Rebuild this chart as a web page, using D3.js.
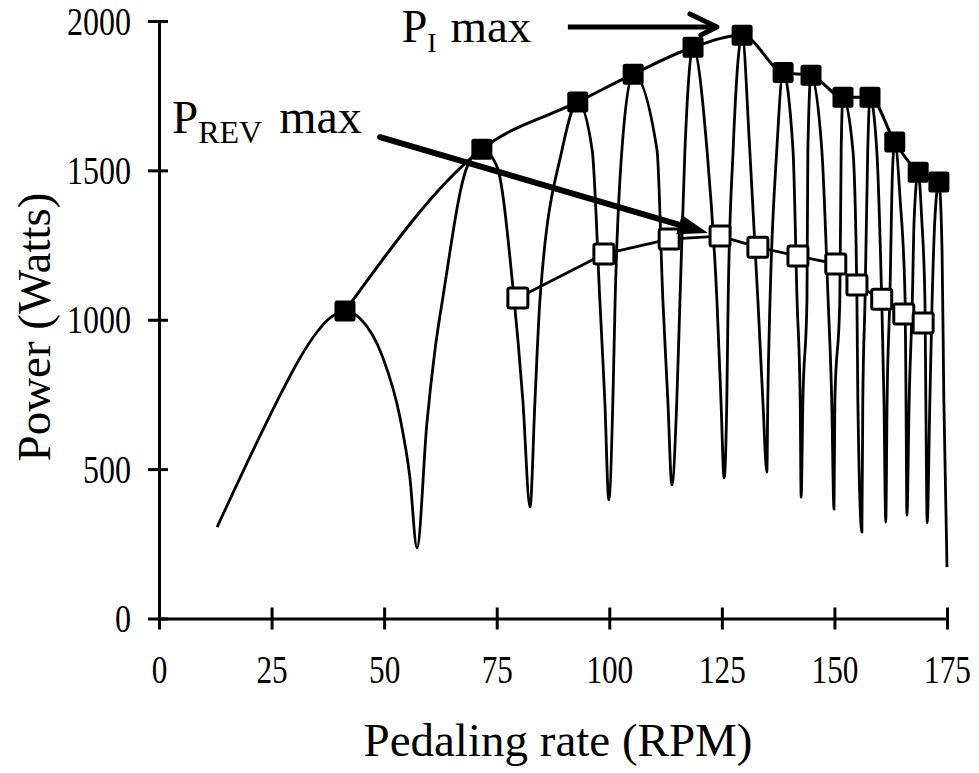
<!DOCTYPE html>
<html><head><meta charset="utf-8">
<script src="https://cdn.jsdelivr.net/npm/d3@7"></script>
<style>html,body{margin:0;padding:0;background:#fff;} svg{display:block;}</style>
</head><body>
<svg id="chart" width="979" height="773"></svg>
<script>
// ---------- data ----------
const xTickValues = [0, 25, 50, 75, 100, 125, 150, 175];
const yTickValues = [0, 500, 1000, 1500, 2000];

// instantaneous power trace (RPM, Watts)
const traceRpm = [12.9, 20.2, 27.5, 31.3, 35.1, 38.0, 41.3, 44.6, 49.7, 53.5, 55.7, 57.3,
  59.5, 61.3, 63.1, 68.4, 71.7,
  75.1, 78.6, 80.8, 82.4,
  83.5, 84.6, 89.5, 93.0,
  96.2, 97.9, 99.0, 99.9,
  100.8, 101.3, 102.8, 105.3,
  110.6, 111.9, 113.0, 113.9,
  115.0, 115.7, 116.8, 118.6,
  121.7, 123.9, 124.8, 125.5,
  126.1, 126.4, 127.5, 129.5,
  131.2, 133.0, 134.1, 135.0,
  135.2, 135.7, 137.2, 138.6,
  140.8, 141.7, 142.4, 142.6,
  143.0, 143.9, 144.1, 144.8,
  147.2, 148.6, 149.4, 149.9,
  150.1, 151.2, 151.5, 151.9,
  154.1, 155.0, 155.2, 156.1,
  156.3, 156.8, 157.4, 157.9,
  159.4, 160.5, 161.0, 161.4,
  161.7, 162.3, 162.9, 163.4,
  164.6, 165.7, 165.9, 166.1,
  166.6, 167.3, 167.7, 168.6,
  169.4, 170.1, 170.3, 170.6,
  171.2, 171.7, 172.3, 173.2,
  173.9, 174.3, 175.0];
const traceWatts = [306, 541, 765, 872, 959, 1006, 1029, 1005, 874, 674, 474, 236,
  655, 900, 1080, 1511, 1571,
  1511, 1109, 731, 373,
  731, 1066, 1568, 1729,
  1568, 1066, 731, 397,
  731, 1066, 1568, 1822,
  1568, 1066, 731, 447,
  731, 1066, 1568, 1912,
  1568, 1066, 731, 470,
  731, 1066, 1568, 1952,
  1568, 1066, 731, 490,
  731, 1066, 1568, 1828,
  1568, 1066, 731, 406,
  731, 1066, 1568, 1818,
  1568, 1066, 731, 366,
  731, 1066, 1568, 1745,
  1568, 1066, 731, 289,
  731, 1066, 1568, 1745,
  1568, 1066, 731, 323,
  731, 1066, 1500, 1595,
  1401, 1066, 731, 346,
  731, 1066, 1334, 1494,
  1334, 1066, 731, 320,
  731, 1066, 1334, 1461,
  1233, 731, 172];

// P_I max (filled squares)
const piRpm   = [41.3, 71.7, 93.0, 105.3, 118.6, 129.5, 138.6, 144.8, 151.9, 157.9, 163.4, 168.6, 173.2];
const piWatts = [1029, 1571, 1729, 1822, 1912, 1952, 1828, 1818, 1745, 1745, 1595, 1494, 1461];

// P_REV max (open squares)
const revRpm   = [79.7, 98.8, 113.3, 124.6, 133.0, 141.9, 150.3, 155.0, 160.5, 165.4, 169.7];
const revWatts = [1073, 1220, 1270, 1280, 1243, 1213, 1187, 1116, 1069, 1019, 989];

// annotation anchors (RPM, Watts)
const piLabelAt   = [53.9, 1930];
const piArrowFrom = [90.8, 1980];
const piArrowTo   = [123.9, 1980];
const revLabelAt   = [2.9, 1625];
const revArrowFrom = [49.1, 1611];
const revArrowTo   = [121.9, 1290];

const xTitle = "Pedaling rate (RPM)";
const yTitle = "Power (Watts)";

// ---------- drawing ----------
const FONT = "'Liberation Serif','Times New Roman',Times,serif";
const svg = d3.select("#chart");
const x = d3.scaleLinear().domain([0, 175]).range([159, 947]);
const y = d3.scaleLinear().domain([0, 2000]).range([618.5, 21]);

// axes
const gx = svg.append("g").attr("transform", `translate(0,${y(0)})`)
  .call(d3.axisBottom(x).tickValues(xTickValues).tickSizeOuter(0).tickFormat(d3.format("d")));
gx.select(".domain").attr("stroke", "#000").attr("stroke-width", 3);
gx.selectAll(".tick line").attr("y1", -11).attr("y2", 11).attr("stroke", "#000").attr("stroke-width", 3);
gx.selectAll(".tick text")
  .attr("font-family", FONT).attr("font-size", 40).attr("fill", "#000")
  .attr("y", 65).attr("dy", 0).attr("text-anchor", "middle")
  .attr("transform", "scale(0.78,1)");

const gy = svg.append("g").attr("transform", `translate(${x(0)},0)`)
  .call(d3.axisLeft(y).tickValues(yTickValues).tickSizeOuter(0).tickFormat(d3.format("d")));
gy.select(".domain").attr("stroke", "#000").attr("stroke-width", 3);
gy.selectAll(".tick line").attr("x1", 9).attr("x2", -11).attr("stroke", "#000").attr("stroke-width", 3);
gy.selectAll(".tick text")
  .attr("font-family", FONT).attr("font-size", 40).attr("fill", "#000")
  .attr("x", -28 / 0.8).attr("dy", "0.33em").attr("text-anchor", "end")
  .attr("transform", "scale(0.8,1)");

// axis titles
svg.append("text").attr("x", 558).attr("y", 756)
  .attr("text-anchor", "middle").attr("font-family", FONT).attr("font-size", 47)
  .text(xTitle);
svg.append("text").attr("transform", "translate(50,327) rotate(-90)")
  .attr("text-anchor", "middle").attr("font-family", FONT).attr("font-size", 47)
  .text(yTitle);

// power trace
const trace = traceRpm.map((r, i) => [r, traceWatts[i]]);
svg.append("path").datum(trace)
  .attr("fill", "none").attr("stroke", "#000").attr("stroke-width", 2.8)
  .attr("stroke-linejoin", "round")
  .attr("d", d3.line().x(d => x(d[0])).y(d => y(d[1])).curve(d3.curveMonotoneX));

// P_I line
const pi = piRpm.map((r, i) => [r, piWatts[i]]);
svg.append("path").datum(pi)
  .attr("fill", "none").attr("stroke", "#000").attr("stroke-width", 3)
  .attr("d", d3.line().x(d => x(d[0])).y(d => y(d[1])).curve(d3.curveMonotoneX));

// P_REV line
const rev = revRpm.map((r, i) => [r, revWatts[i]]);
svg.append("path").datum(rev)
  .attr("fill", "none").attr("stroke", "#000").attr("stroke-width", 2.8)
  .attr("d", d3.line().x(d => x(d[0])).y(d => y(d[1])));

// markers
const S = 21;
svg.append("g").selectAll("rect").data(pi).join("rect")
  .attr("x", d => x(d[0]) - S / 2).attr("y", d => y(d[1]) - S / 2)
  .attr("width", S).attr("height", S).attr("rx", 2.5).attr("fill", "#000");
const O = 20;
svg.append("g").selectAll("rect").data(rev).join("rect")
  .attr("x", d => x(d[0]) - O / 2).attr("y", d => y(d[1]) - O / 2)
  .attr("width", O).attr("height", O).attr("rx", 2)
  .attr("fill", "#fff").attr("stroke", "#000").attr("stroke-width", 3);

// arrows
(function () {
  const x0 = x(piArrowFrom[0]), y0 = y(piArrowFrom[1]);
  const x1 = x(piArrowTo[0]), y1 = y(piArrowTo[1]);
  svg.append("line").attr("x1", x0).attr("y1", y0).attr("x2", x1 - 3).attr("y2", y1)
    .attr("stroke", "#000").attr("stroke-width", 5);
  svg.append("path")
    .attr("d", `M${x1 - 27},${y1 - 13} L${x1},${y1} L${x1 - 16},${y1 + 8}`)
    .attr("fill", "none").attr("stroke", "#000").attr("stroke-width", 5)
    .attr("stroke-linejoin", "round").attr("stroke-linecap", "round");
})();
(function () {
  const x0 = x(revArrowFrom[0]), y0 = y(revArrowFrom[1]);
  const x1 = x(revArrowTo[0]), y1 = y(revArrowTo[1]);
  const dx = x1 - x0, dy = y1 - y0, L = Math.hypot(dx, dy);
  const ux = dx / L, uy = dy / L, nx = -uy, ny = ux;
  const hl = 30, hw = 10;
  const bx = x1 - ux * hl, by = y1 - uy * hl;
  svg.append("line").attr("x1", x0).attr("y1", y0).attr("x2", bx + ux * 4).attr("y2", by + uy * 4)
    .attr("stroke", "#000").attr("stroke-width", 6).attr("stroke-linecap", "round");
  svg.append("path")
    .attr("d", `M${x1},${y1} L${bx + nx * hw},${by + ny * hw} L${bx - nx * hw},${by - ny * hw} Z`)
    .attr("fill", "#000");
})();

// annotation labels
const piText = svg.append("text").attr("x", x(piLabelAt[0])).attr("y", y(piLabelAt[1]))
  .attr("font-family", FONT).attr("font-size", 46);
piText.append("tspan").text("P");
piText.append("tspan").attr("font-size", 28).attr("dy", 10).text("I");
piText.append("tspan").attr("dy", -10).attr("dx", 2).attr("font-size", 47).text(" max");

const revText = svg.append("text").attr("x", x(revLabelAt[0])).attr("y", y(revLabelAt[1]))
  .attr("font-family", FONT).attr("font-size", 47);
revText.append("tspan").text("P");
revText.append("tspan").attr("font-size", 32).attr("dy", 10).text("REV");
revText.append("tspan").attr("dy", -10).attr("dx", 5).attr("font-size", 48).text(" max");
</script>
</body></html>
